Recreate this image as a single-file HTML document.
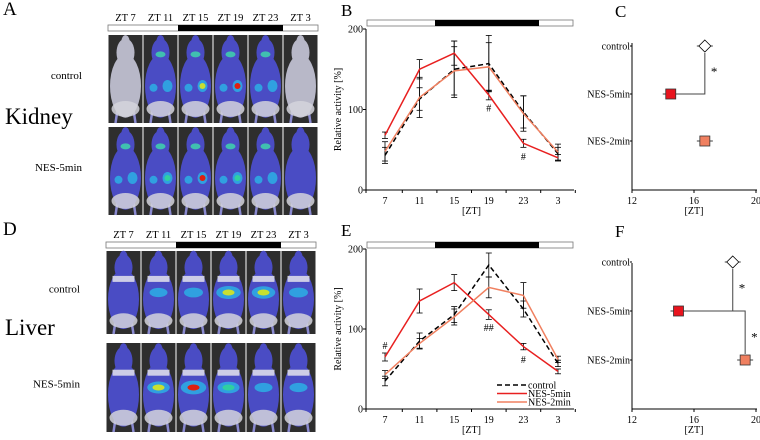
<!DOCTYPE html>
<html><head><meta charset="utf-8"><style>
body{margin:0;background:#fff;}
svg{display:block;font-family:"Liberation Serif",serif;}
</style></head><body>
<svg id="fig" width="760" height="440" viewBox="0 0 760 440">
<g id="imgs"></g>
<g id="charts"></g>
</svg>
<script>
const zts = ["7","11","15","19","23","3"];
const kCtrl = [43,113,150,157,97,45];
const kNes5 = [68,150,170,118,58,40];
const kNes2 = [48,115,148,153,95,47];
const kCtrlErr = [10,14,35,35,20,8];
const kNes5Err = [4,12,15,6,5,4];
const kNes2Err = [12,25,30,30,22,10];
const lCtrl = [35,85,118,180,125,57];
const lNes5 = [65,135,158,118,78,47];
const lNes2 = [43,82,115,152,142,62];
const lCtrlErr = [6,10,10,15,10,4];
const lNes5Err = [5,15,10,6,4,3];
const lNes2Err = [5,6,10,13,16,4];
const phaseLabels = ["control","NES-5min","NES-2min"];
const kPhase = [16.7,14.5,16.7];
const lPhase = [18.5,15.0,19.3];
const phaseTicks = [12,16,20];
const yTicks = [0,100,200];
const kBlob = [[0.1,0.4,0.7,0.9,0.4,0.05],[0.2,0.6,0.95,0.6,0.2,0.1]];
const lBlob = [[0.05,0.2,0.3,0.85,0.75,0.3],[0.1,0.65,0.95,0.6,0.2,0.2]];

const NS="http://www.w3.org/2000/svg";
function el(tag,attrs,parent,txt){const e=document.createElementNS(NS,tag);for(const k in attrs)e.setAttribute(k,attrs[k]);if(txt!==undefined)e.textContent=txt;parent.appendChild(e);return e;}
const imgs=document.getElementById('imgs');
const charts=document.getElementById('charts');

function heat(v){return v>0.85?'#e02010':v>0.6?'#c8e030':v>0.4?'#30d0a0':'#30a0e0';}

function imagePanel(letter,ly,organ,oy,x0,barY,row1,row2,blobs,liver){
  let t=el('text',{x:3,y:ly,'font-size':19},imgs,letter);
  
  
  t=el('text',{x:5,y:oy,'font-size':23},imgs,organ);
  
  
  const cw=35;
  zts.forEach((z,i)=>{const tt=el('text',{x:x0+cw*i+cw/2,y:barY-4,'font-size':10.5,'text-anchor':'middle'},imgs,'ZT '+z);
    
    });
  el('rect',{x:x0,y:barY,width:cw*6,height:6,fill:'#fff',stroke:'#777','stroke-width':0.8},imgs);
  el('rect',{x:x0+cw*2,y:barY,width:cw*3,height:6,fill:'#000'},imgs);
  [row1,row2].forEach((r,ri)=>{
    const rl=el('text',{x:x0-26,y:r.y+r.h/2,'font-size':11,'text-anchor':'end'},imgs,ri?'NES-5min':'control');
    
    
    for(let i=0;i<6;i++){
      const cx=x0+cw*i, g=el('g',{},imgs);
      
      
      el('rect',{x:cx+0.5,y:r.y,width:cw-1,height:r.h,fill:'#2e2e2e'},g);
      const mx=cx+cw/2;
      const bright = (!liver&&ri==0&&(i==0||i==5));
      const bc = bright?'#b8b8c8':'#4a4cc4';
      el('line',{x1:mx-8,y1:r.y+r.h*0.85,x2:mx-10,y2:r.y+r.h,stroke:'#8a8ad0','stroke-width':2.5},g);
      el('line',{x1:mx+8,y1:r.y+r.h*0.85,x2:mx+10,y2:r.y+r.h,stroke:'#8a8ad0','stroke-width':2.5},g);
      el('ellipse',{cx:mx,cy:r.y+r.h*0.58,rx:15.5,ry:r.h*0.36,fill:bc},g);
      el('ellipse',{cx:mx,cy:r.y+r.h*0.2,rx:9,ry:r.h*0.16,fill:bc},g);
      el('ellipse',{cx:mx,cy:r.y+r.h*0.07,rx:4,ry:6,fill:bc},g);
      el('ellipse',{cx:mx,cy:r.y+r.h*0.84,rx:14,ry:r.h*0.09,fill:'#d4d4dc',opacity:0.85},g);
      const v=blobs[ri][i];
      if(liver){
        el('rect',{x:mx-11,y:r.y+r.h*0.3,width:22,height:6,fill:'#e4e4ec',opacity:0.85},g);
        if(v>0.15){el('ellipse',{cx:mx,cy:r.y+r.h*0.5,rx:8+v*5,ry:4+v*3,fill:'#30a0e0'},g);
          if(v>0.5)el('ellipse',{cx:mx,cy:r.y+r.h*0.5,rx:6,ry:3,fill:heat(v)},g);
          if(v>0.85)el('ellipse',{cx:mx,cy:r.y+r.h*0.5,rx:2.5,ry:2,fill:'#e02010'},g);}
      } else {
        if(v>0.15){
          el('ellipse',{cx:mx-7,cy:r.y+r.h*0.6,rx:4,ry:4,fill:'#30a0e0'},g);
          el('ellipse',{cx:mx+7,cy:r.y+r.h*0.58,rx:5,ry:6,fill:'#30a0e0'},g);
          if(v>0.5)el('ellipse',{cx:mx+7,cy:r.y+r.h*0.58,rx:3,ry:3,fill:heat(v)},g);
          el('ellipse',{cx:mx,cy:r.y+r.h*0.22,rx:5,ry:3,fill:'#40c0b0'},g);
        }
      }
    }
  });
}
imagePanel('A',15,'Kidney',124,108,25,{y:35,h:88},{y:127,h:88},kBlob,false);
imagePanel('D',235,'Liver',335,106,242,{y:251,h:83},{y:343,h:89},lBlob,true);

function lineChart(letter,ox,top,bot,barY,series,showLegend){
  const x0=366, xs=385, dx=34.6;
  const X=i=>xs+i*dx, Y=v=>bot-(v/200)*(bot-top);
  let t=el('text',{x:ox,y:top-13,'font-size':17},charts,letter);
  
  
  el('rect',{x:x0+1,y:barY,width:206,height:6,fill:'#fff',stroke:'#777','stroke-width':0.8},charts);
  el('rect',{x:x0+69,y:barY,width:104,height:6,fill:'#000'},charts);
  el('line',{x1:x0,y1:top,x2:x0,y2:bot,stroke:'#000','stroke-width':1},charts);
  el('line',{x1:x0,y1:bot,x2:574,y2:bot,stroke:'#000','stroke-width':1},charts);
  yTicks.forEach(v=>{el('line',{x1:x0-3,y1:Y(v),x2:x0,y2:Y(v),stroke:'#000'},charts);
    const tt=el('text',{x:x0-3,y:Y(v)+3.5,'font-size':10,'text-anchor':'end'},charts,v);
    
    });
  zts.forEach((z,i)=>{el('line',{x1:X(i)+dx/2,y1:bot,x2:X(i)+dx/2,y2:bot+3,stroke:'#000'},charts);
    const tt=el('text',{x:X(i),y:bot+14,'font-size':10,'text-anchor':'middle'},charts,z);
    
    });
  el('line',{x1:x0,y1:bot,x2:x0,y2:bot+3,stroke:'#000'},charts);
  t=el('text',{x:X(2.5),y:bot+24,'font-size':10,'text-anchor':'middle'},charts,'[ZT]');
  
  
  t=el('text',{x:0,y:0,'font-size':10,'text-anchor':'middle',transform:`translate(${x0-25},${(top+bot)/2}) rotate(-90)`},charts,'Relative activity [%]');
  
  
  series.forEach(s=>{
    s.vals.forEach((v,i)=>{const e=s.err[i];
      el('line',{x1:X(i),y1:Y(v-e),x2:X(i),y2:Y(v+e),stroke:'#000','stroke-width':0.8},charts);
      el('line',{x1:X(i)-3,y1:Y(v-e),x2:X(i)+3,y2:Y(v-e),stroke:'#000','stroke-width':0.8},charts);
      el('line',{x1:X(i)-3,y1:Y(v+e),x2:X(i)+3,y2:Y(v+e),stroke:'#000','stroke-width':0.8},charts);});
  });
  series.forEach(s=>{
    const p=el('polyline',{points:s.vals.map((v,i)=>X(i)+','+Y(v)).join(' '),fill:'none',stroke:s.color,'stroke-width':s.w,'stroke-dasharray':s.dash||'none'},charts);
    
    
  });
  if(showLegend){
    series.forEach((s,k)=>{const y=bot-24+k*8.5;
      el('line',{x1:497,y1:y,x2:527,y2:y,stroke:s.color,'stroke-width':s.w,'stroke-dasharray':s.dash||'none'},charts);
      const tt=el('text',{x:528,y:y+3.5,'font-size':10},charts,s.label);
      
      });
  }
  return {X,Y};
}
const b=lineChart('B',341,29,190,20,[
 {name:'control',label:'control',vals:kCtrl,err:kCtrlErr,color:'#000',w:1.5,dash:'5,3'},
 {name:'nes2',label:'NES-2min',vals:kNes2,err:kNes2Err,color:'#f08060',w:1.5},
 {name:'nes5',label:'NES-5min',vals:kNes5,err:kNes5Err,color:'#e82020',w:1.5}],false);
el('text',{x:b.X(3),y:b.Y(100)+2,'font-size':10,'text-anchor':'middle'},charts,'#');
el('text',{x:b.X(4),y:b.Y(40)+2,'font-size':10,'text-anchor':'middle'},charts,'#');
const e=lineChart('E',341,249,409,242,[
 {name:'control',label:'control',vals:lCtrl,err:lCtrlErr,color:'#000',w:1.5,dash:'5,3'},
 {name:'nes5',label:'NES-5min',vals:lNes5,err:lNes5Err,color:'#e82020',w:1.5},
 {name:'nes2',label:'NES-2min',vals:lNes2,err:lNes2Err,color:'#f08060',w:1.5}],true);
el('text',{x:e.X(0),y:e.Y(75),'font-size':10,'text-anchor':'middle'},charts,'#');
el('text',{x:e.X(3),y:e.Y(100)+2,'font-size':10,'text-anchor':'middle'},charts,'##');
el('text',{x:e.X(4),y:e.Y(60)+2,'font-size':10,'text-anchor':'middle'},charts,'#');

function phaseChart(letter,top,bot,rows,vals,brackets){
  const ax=632, PX=v=>ax+(v-12)*15.5;
  let t=el('text',{x:615,y:top-26,'font-size':17},charts,letter);
  
  
  el('line',{x1:ax,y1:top,x2:ax,y2:bot,stroke:'#000'},charts);
  el('line',{x1:ax,y1:bot,x2:757,y2:bot,stroke:'#000'},charts);
  phaseTicks.forEach(v=>{el('line',{x1:PX(v),y1:bot,x2:PX(v),y2:bot+3,stroke:'#000'},charts);
    const tt=el('text',{x:PX(v),y:bot+14,'font-size':10,'text-anchor':'middle'},charts,v);
    
    });
  t=el('text',{x:PX(16),y:bot+24,'font-size':10,'text-anchor':'middle'},charts,'[ZT]');
  
  
  phaseLabels.forEach((l,i)=>{const y=rows[i];
    el('line',{x1:ax-2,y1:y,x2:ax,y2:y,stroke:'#000'},charts);
    const tt=el('text',{x:ax-2,y:y+3.5,'font-size':10,'text-anchor':'end'},charts,l);
    
    
    const x=PX(vals[i]);
    el('line',{x1:x-8,y1:y,x2:x+8,y2:y,stroke:'#000','stroke-width':0.8},charts);
    let m;
    if(i==0) m=el('polygon',{points:`${x},${y-6} ${x+6},${y} ${x},${y+6} ${x-6},${y}`,fill:'#fff',stroke:'#000','stroke-width':0.8},charts);
    else m=el('rect',{x:x-5,y:y-5,width:10,height:10,fill:i==1?'#e8141e':'#f08060',stroke:'#333','stroke-width':0.8},charts);
    
    
  });
  brackets.forEach(bk=>{
    const xa=PX(vals[bk[0]]), xb=PX(vals[bk[1]]), ya=rows[bk[0]], yb=rows[bk[1]];
    const xr=Math.max(xa,xb);
    el('polyline',{points:`${xr},${ya+(bk[0]==0?7:-6)} ${xr},${yb} ${Math.min(xa,xb)+6},${yb}`,fill:'none',stroke:'#444','stroke-width':1},charts);
    el('text',{x:xr+6,y:(ya+yb)/2+6,'font-size':13},charts,'*');
  });
}
phaseChart('C',43,190,[46,94,141],kPhase,[[0,1]]);
phaseChart('F',263,409,[262,311,360],lPhase,[[0,1],[2,1]]);
</script>
</body></html>
